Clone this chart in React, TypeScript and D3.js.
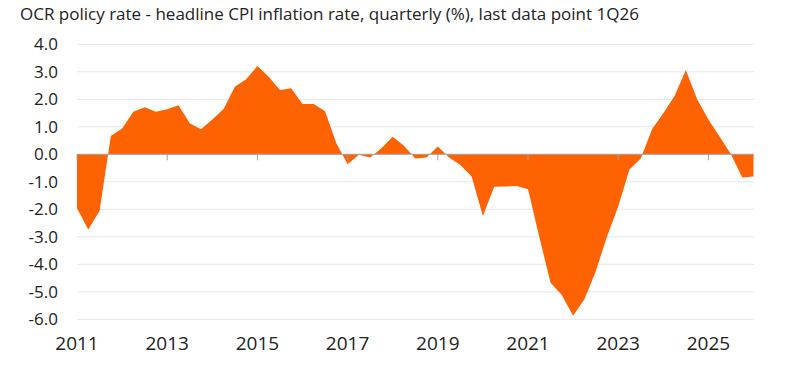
import React from "react";
import * as d3 from "d3";

const TITLE = "OCR policy rate - headline CPI inflation rate, quarterly (%), last data point 1Q26";
const START_YEAR = 2011;
const VALUES: number[] = [
  -1.96, -2.73, -2.06, 0.67,
  0.94, 1.55, 1.71, 1.55,
  1.64, 1.78, 1.13, 0.91,
  1.27, 1.65, 2.46, 2.73,
  3.21, 2.82, 2.34, 2.4,
  1.83, 1.83, 1.57, 0.4,
  -0.36, -0.02, -0.12, 0.22,
  0.64, 0.31, -0.15, -0.12,
  0.28, -0.12, -0.39, -0.81,
  -2.24, -1.18, -1.17, -1.15,
  -1.27, -3.0, -4.67, -5.12,
  -5.87, -5.27, -4.27, -3.0,
  -1.9, -0.55, -0.15, 0.91,
  1.49, 2.12, 3.07, 2.0,
  1.27, 0.64, 0.0, -0.84,
  -0.81,
];
const Y_TICKS = [4, 3, 2, 1, 0, -1, -2, -3, -4, -5, -6];
const X_TICK_YEARS = [2011, 2013, 2015, 2017, 2019, 2021, 2023, 2025];

const W = 800;
const H = 370;
const ORANGE = "#FF6200";
const FONT = "'Open Sans', 'Noto Sans', sans-serif";

export default function App() {
  const x = d3.scaleLinear().domain([START_YEAR, START_YEAR + 15]).range([77, 753.5]);
  const y = d3.scaleLinear().domain([-6, 4]).range([319.3, 44.3]);
  const data = VALUES.map((v, i) => ({ t: START_YEAR + i / 4, v }));
  const area = d3
    .area<{ t: number; v: number }>()
    .x((d) => x(d.t))
    .y0(y(0))
    .y1((d) => y(d.v));
  const zeroY = y(0);
  return (
    <svg width={W} height={H} style={{ position: "absolute", left: 0, top: 0, background: "#fff" }}>
      <text x={20} y={20} fontFamily={FONT} fontSize={17} fill="#222">
        {TITLE}
      </text>
      {Y_TICKS.filter((t) => t !== 0).map((t) => (
        <line key={t} x1={77} x2={754} y1={y(t)} y2={y(t)} stroke="#e6e6e6" strokeWidth={1} />
      ))}
      <path d={area(data) || ""} fill={ORANGE} />
      <line x1={77} x2={754} y1={zeroY} y2={zeroY} stroke="#a0a0a0" strokeWidth={1} />
      {X_TICK_YEARS.map((yr) => (
        <g key={yr}>
          <line x1={x(yr)} x2={x(yr)} y1={zeroY} y2={zeroY + 6} stroke="#a0a0a0" strokeWidth={1} />
          <text x={x(yr)} y={350} textAnchor="middle" fontFamily={FONT} fontSize={19} fill="#222">
            {yr}
          </text>
        </g>
      ))}
      {Y_TICKS.map((t) => (
        <text key={t} x={58} y={y(t)} dy="0.36em" textAnchor="end" fontFamily={FONT} fontSize={17} fill="#222">
          {t.toFixed(1)}
        </text>
      ))}
    </svg>
  );
}
